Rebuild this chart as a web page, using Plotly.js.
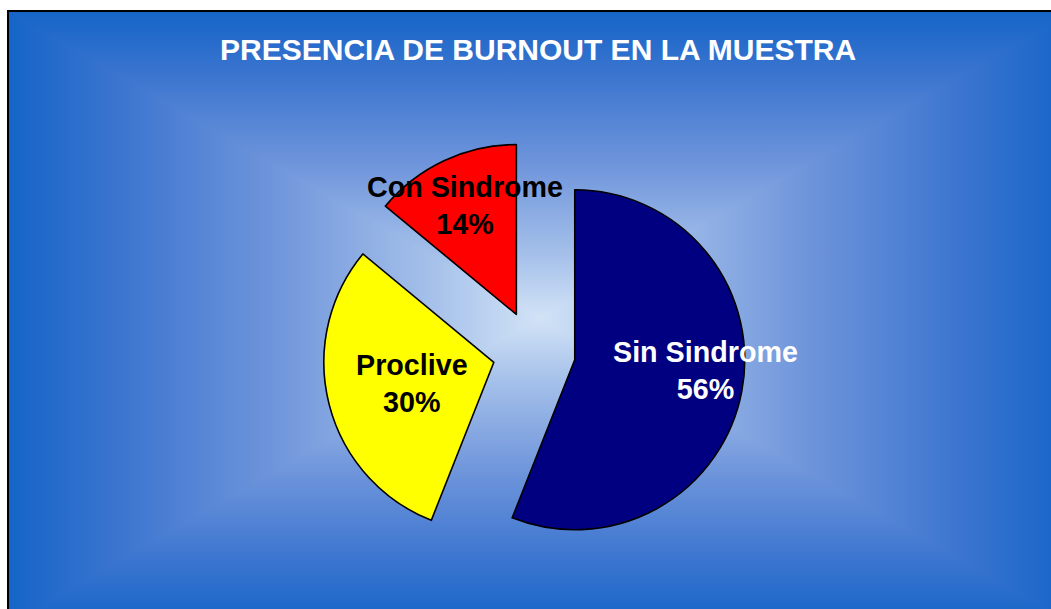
<!DOCTYPE html>
<html>
<head>
<meta charset="utf-8">
<script src="https://cdn.plot.ly/plotly-3.0.1.min.js"></script>
<style>
  html, body { margin: 0; padding: 0; background: #ffffff; width: 1051px; height: 609px; overflow: hidden; }
  #frame {
    position: absolute; left: 7px; top: 10px; width: 1062px; height: 612px;
    border-left: 2px solid #000; border-top: 2px solid #000;
    background:
      linear-gradient(to right, #1565c8 0%, #3a74cf 10%, #6f95db 25%, #a6c1ea 40%, #d2e3f6 50%, #a6c1ea 60%, #6f95db 75%, #3a74cf 90%, #1565c8 100%),
      linear-gradient(to bottom, #1565c8 0%, #3a74cf 10%, #6f95db 25%, #a6c1ea 40%, #d2e3f6 50%, #a6c1ea 60%, #6f95db 75%, #3a74cf 90%, #1565c8 100%);
    background-blend-mode: darken;
  }
  #chart { position: absolute; left: 0; top: 0; width: 1051px; height: 609px; }
</style>
</head>
<body>
<div id="frame"></div>
<div id="chart"></div>
<script>
const categories = ["Sin Sindrome", "Proclive", "Con Sindrome"];
const percents = [56, 30, 14];
const sliceColors = ["#000080", "#FFFF00", "#FF0000"];
const labelColors = ["#FFFFFF", "#000000", "#000000"];
const labelPos = [[0.6717, 0.391], [0.392, 0.371], [0.4424, 0.663]];

const trace = {
  type: "pie",
  values: percents,
  labels: categories,
  sort: false,
  direction: "clockwise",
  rotation: 0,
  pull: [0.244, 0.244, 0.244],
  marker: { colors: sliceColors, line: { color: "#000000", width: 1.6 } },
  textinfo: "none",
  hoverinfo: "label+percent",
  domain: { x: [0.3069, 0.7093], y: [0.0747, 0.7693] },
  showlegend: false
};

const annotations = categories.map((c, i) => ({
  text: c + "<br>" + percents[i] + "%",
  x: labelPos[i][0], y: labelPos[i][1], xref: "paper", yref: "paper",
  xanchor: "center", yanchor: "middle", showarrow: false, align: "center",
  font: { family: "Liberation Sans, Arial, sans-serif", size: 28.7, color: labelColors[i], weight: "bold" }
}));

const layout = {
  width: 1051, height: 609,
  margin: { l: 0, r: 0, t: 0, b: 0 },
  paper_bgcolor: "rgba(0,0,0,0)",
  plot_bgcolor: "rgba(0,0,0,0)",
  title: {
    text: "<b>PRESENCIA DE BURNOUT EN LA MUESTRA</b>",
    x: 0.512, xanchor: "center", y: 0.918, yanchor: "middle",
    font: { family: "Liberation Sans, Arial, sans-serif", size: 30, color: "#FFFFFF" }
  },
  annotations: annotations,
  showlegend: false
};

Plotly.newPlot("chart", [trace], layout, { displayModeBar: false, staticPlot: true });
</script>
</body>
</html>
